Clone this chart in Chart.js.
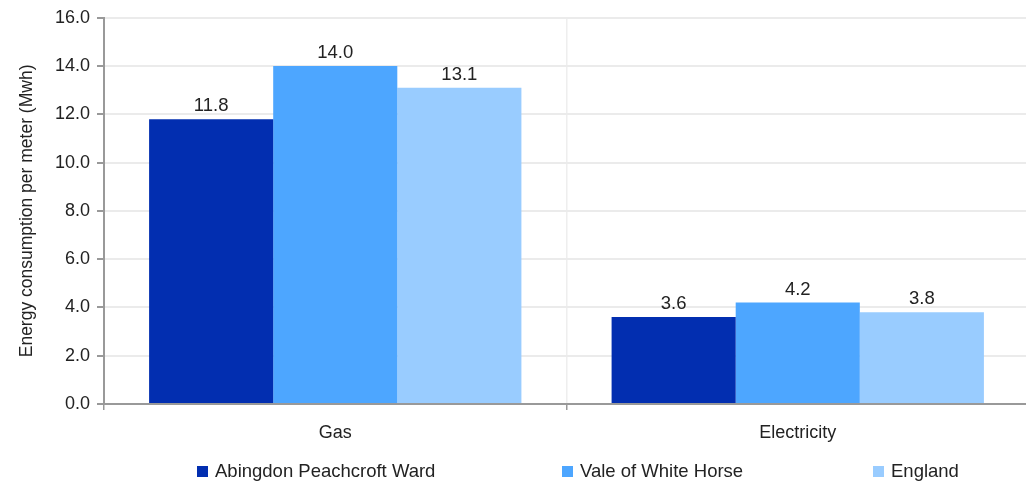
<!DOCTYPE html>
<html>
<head>
<meta charset="utf-8">
<script src="https://cdn.jsdelivr.net/npm/chart.js@4"></script>
<style>
  html, body { margin: 0; padding: 0; background: #fff; }
  #wrap { position: relative; width: 1026px; height: 481px; overflow: hidden; }
  #legend { position: absolute; left: 0; top: 460px; width: 1026px; height: 21px; font-family: "Liberation Sans", Arial, sans-serif; font-size: 18.5px; color: #222; }
  .item { position: absolute; top: 1px; white-space: nowrap; line-height: 20px; }
  .box { display: inline-block; width: 11px; height: 11px; margin-right: 7px; vertical-align: 0px; }
</style>
</head>
<body>
<div id="wrap">
  <canvas id="c" width="1029" height="481"></canvas>
  <div id="legend"></div>
</div>
<script>
const categories = ["Gas", "Electricity"];
const seriesNames = ["Abingdon Peachcroft Ward", "Vale of White Horse", "England"];
const abingdon = [11.8, 3.6];
const vale = [14.0, 4.2];
const england = [13.1, 3.8];
const yTicks = [0, 2, 4, 6, 8, 10, 12, 14, 16];
const colors = ["#022eb0", "#4da6ff", "#99ccff"];
const legendX = [197, 562, 873];

const FONT = '"Liberation Sans", Arial, sans-serif';

const valueLabels = {
  id: 'valueLabels',
  afterDatasetsDraw(chart) {
    const ctx = chart.ctx;
    ctx.save();
    ctx.font = '18.5px ' + FONT;
    ctx.fillStyle = '#222';
    ctx.textAlign = 'center';
    ctx.textBaseline = 'alphabetic';
    chart.data.datasets.forEach((ds, i) => {
      chart.getDatasetMeta(i).data.forEach((bar, j) => {
        ctx.fillText(ds.data[j].toFixed(1), bar.x, bar.y - 8);
      });
    });
    ctx.restore();
  }
};

new Chart(document.getElementById('c'), {
  type: 'bar',
  data: {
    labels: categories,
    datasets: [
      { label: seriesNames[0], data: abingdon, backgroundColor: colors[0] },
      { label: seriesNames[1], data: vale, backgroundColor: colors[1] },
      { label: seriesNames[2], data: england, backgroundColor: colors[2] }
    ]
  },
  options: {
    responsive: false,
    animation: false,
    layout: { padding: { left: 17, top: 15, right: 0, bottom: 33 } },
    plugins: { legend: { display: false }, tooltip: { enabled: false } },
    datasets: { bar: { categoryPercentage: 0.805, barPercentage: 1.0 } },
    scales: {
      x: {
        offset: true,
        grid: { offset: true, color: '#eeeeee', lineWidth: 1.5, tickLength: 6, tickColor: '#999999', drawOnChartArea: true },
        border: { color: '#999999', width: 2 },
        ticks: { color: '#222', font: { family: FONT, size: 18 }, padding: 12 },
        afterFit(s) { s.height = 44; }
      },
      y: {
        min: 0, max: 16,
        afterBuildTicks(s) { s.ticks = yTicks.map(v => ({ value: v })); },
        grid: { color: '#ebebeb', lineWidth: 2, tickLength: 7, tickColor: '#999999' },
        border: { color: '#999999', width: 2 },
        ticks: { color: '#222', font: { family: FONT, size: 18 }, padding: 7, callback: v => Number(v).toFixed(1) },
        title: { display: true, text: 'Energy consumption per meter (Mwh)', color: '#222', font: { family: FONT, size: 17.5 }, padding: { top: 0, bottom: 8 } },
        afterFit(s) { s.width = 87; }
      }
    }
  },
  plugins: [valueLabels]
});

const leg = document.getElementById('legend');
seriesNames.forEach((n, i) => {
  const d = document.createElement('div');
  d.className = 'item';
  d.style.left = legendX[i] + 'px';
  d.innerHTML = '<span class="box" style="background:' + colors[i] + '"></span>' + n;
  leg.appendChild(d);
});
</script>
</body>
</html>
